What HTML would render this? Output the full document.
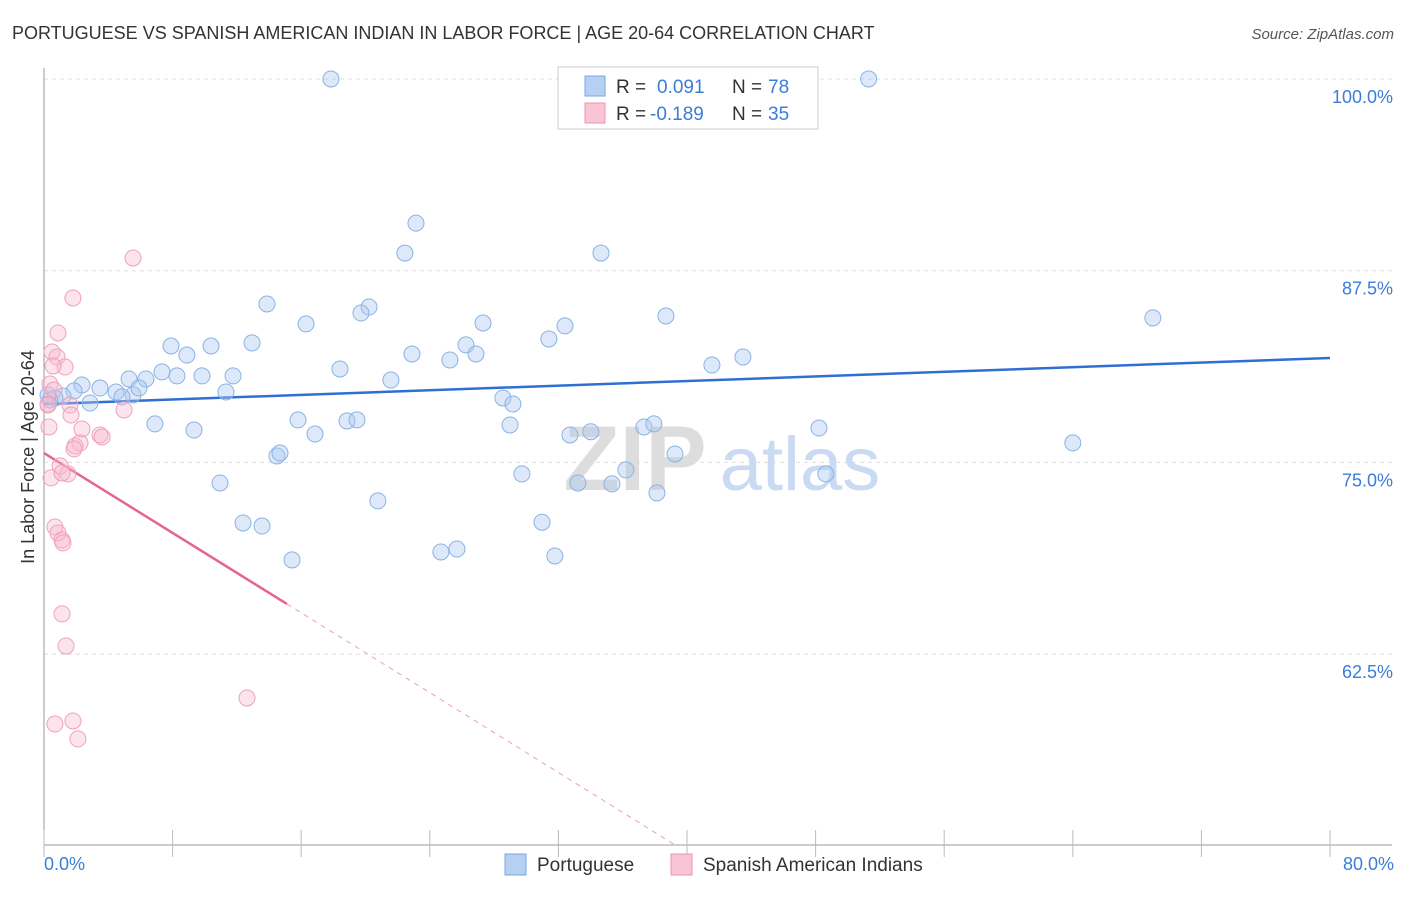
<!DOCTYPE html>
<html><head><meta charset="utf-8"><style>
body{margin:0;background:#fff;font-family:"Liberation Sans",sans-serif}
svg text{font-family:"Liberation Sans",sans-serif}
</style></head><body>
<svg width="1406" height="892" id="chart">
<text x="12" y="39" font-size="18" fill="#333">PORTUGUESE VS SPANISH AMERICAN INDIAN IN LABOR FORCE | AGE 20-64 CORRELATION CHART</text>
<text x="1394" y="39" font-size="15" fill="#555" font-style="italic" text-anchor="end">Source: ZipAtlas.com</text>
<text transform="translate(34,457) rotate(-90)" font-size="18" fill="#333" text-anchor="middle">In Labor Force | Age 20-64</text>
<g id="grid"></g>
<g id="watermark">
<text x="635" y="490" font-size="92" fill="#ddd" text-anchor="middle" font-family="Liberation Serif" font-weight="bold">ZIP</text>
<text x="800" y="490" font-size="76" fill="#c9daf2" text-anchor="middle">atlas</text></g>
<g id="trends"></g>
<g id="points"></g>
<g id="legend">
<rect x="558" y="67" width="260" height="62" fill="#fff" stroke="#ccc"/>
<rect x="585" y="76" width="20" height="20" fill="#b5d0f3" stroke="#7aa6e0"/>
<text x="616" y="93" font-size="19" fill="#333">R = </text><text x="657" y="93" font-size="19" fill="#3b7dd8">0.091</text>
<text x="732" y="93" font-size="19" fill="#333">N = </text><text x="768" y="93" font-size="19" fill="#3b7dd8">78</text>
<rect x="585" y="103" width="20" height="20" fill="#f9c5d5" stroke="#ee93b0"/>
<text x="616" y="120" font-size="19" fill="#333">R = </text><text x="650" y="120" font-size="19" fill="#3b7dd8">-0.189</text>
<text x="732" y="120" font-size="19" fill="#333">N = </text><text x="768" y="120" font-size="19" fill="#3b7dd8">35</text>
</g>
<g>
<rect x="505" y="854" width="21" height="21" fill="#b5d0f3" stroke="#7aa6e0"/>
<text x="537" y="871" font-size="19" fill="#333">Portuguese</text>
<rect x="671" y="854" width="21" height="21" fill="#f9c5d5" stroke="#ee93b0"/>
<text x="703" y="871" font-size="19" fill="#333">Spanish American Indians</text>
</g>
</svg>
<script>
const blueX=[17.85,51.3,23.14,22.45,34.65,13.87,20.22,19.72,16.3,27.31,38.69,68.98,32.41,31.41,7.9,10.39,12.94,26.25,8.89,22.89,26.87,25.25,43.48,41.55,18.41,7.34,8.27,9.83,11.76,5.29,6.34,21.58,2.36,3.48,1.87,11.32,4.48,5.54,5.91,4.85,1.18,2.86,0.68,28.55,29.17,6.9,9.33,15.8,16.86,18.85,19.47,28.99,32.72,34.02,37.32,37.94,48.21,64.0,14.49,14.68,39.25,36.2,29.73,48.64,10.95,33.21,35.33,38.13,20.77,12.38,13.56,30.98,15.43,24.69,25.69,31.78,0.37,0.25];
const blueY=[100,100,90.6,88.65,88.65,85.33,85.13,84.74,84.03,84.09,84.55,84.42,83.9,83.05,82.59,82.59,82.79,82.66,82.0,82.07,82.07,81.68,81.87,81.35,81.09,80.9,80.64,80.64,80.64,80.44,80.44,80.37,80.05,79.85,79.66,79.59,79.59,79.4,79.85,79.27,79.33,78.87,79.2,79.2,78.81,77.51,77.11,77.77,76.85,77.7,77.77,77.44,76.79,77.0,77.31,77.51,77.24,76.27,75.42,75.61,75.55,74.51,74.25,74.25,73.66,73.66,73.6,73.01,72.49,71.05,70.85,71.1,68.64,69.16,69.35,68.9,79.07,79.4];
const pinkX=[5.54,1.8,0.87,0.5,0.81,1.31,0.56,0.37,0.62,0.25,1.62,1.68,4.98,0.31,2.36,3.48,3.61,1.93,2.24,1.87,1.0,1.49,0.44,1.12,0.68,0.87,1.12,1.18,1.12,1.37,12.63,0.68,1.8,2.11,0.25];
const pinkY=[88.33,85.72,83.44,82.2,81.87,81.22,81.29,80.11,79.72,78.81,78.74,78.09,78.42,77.31,77.18,76.79,76.66,76.07,76.27,75.88,74.77,74.25,73.99,74.31,70.79,70.4,69.94,69.75,65.12,63.03,59.64,57.94,58.14,56.97,78.74];
const blueTrend=[78.8,81.81];
const pinkTrend=[75.61,-0.651];
const yTicks=[100,87.5,75,62.5];
const yTickLabels=["100.0%","87.5%","75.0%","62.5%"];
const xLabels=["0.0%","80.0%"];
const NS="http://www.w3.org/2000/svg";
const sx=v=>44+v/80*1286, sy=v=>79+(100-v)/12.5*191.7;
function mk(tag,attrs,parent){const e=document.createElementNS(NS,tag);for(const k in attrs)e.setAttribute(k,attrs[k]);document.getElementById(parent).appendChild(e);return e;}
yTicks.forEach((t,i)=>{
 const l=mk('line',{x1:44,x2:1392,y1:sy(t),y2:sy(t),stroke:'#ddd','stroke-dasharray':'4,4'},'grid');
 
 
 const tx=mk('text',{x:1393,y:sy(t)+24,'font-size':18,fill:'#3b7dd8','text-anchor':'end'},'grid');tx.textContent=yTickLabels[i];
 
 
});
const ya=mk('line',{x1:44,x2:44,y1:68,y2:845,stroke:'#999'},'grid');


const xa=mk('line',{x1:44,x2:1392,y1:845,y2:845,stroke:'#999'},'grid');


for(let i=0;i<=10;i++){const t=mk('line',{x1:sx(i*8),x2:sx(i*8),y1:830,y2:857,stroke:'#bbb'},'grid');
 
 }
[[0,'start',44],[80,'end',1394]].forEach((d,i)=>{const t=mk('text',{x:d[2],y:870,'font-size':18,fill:'#3b7dd8','text-anchor':d[1]},'grid');t.textContent=xLabels[i];
 
 });
blueX.forEach((x,i)=>{const c=mk('circle',{cx:sx(x),cy:sy(blueY[i]),r:8,fill:'rgba(170,200,240,0.4)',stroke:'#8ab2e6','stroke-width':1},'points');
 
 });
pinkX.forEach((x,i)=>{const c=mk('circle',{cx:sx(x),cy:sy(pinkY[i]),r:8,fill:'rgba(247,185,205,0.38)',stroke:'#f0a0ba','stroke-width':1},'points');
 
 });
const bt=mk('line',{x1:sx(0),y1:sy(blueTrend[0]),x2:sx(80),y2:sy(blueTrend[1]),stroke:'#2f6fd3','stroke-width':2.5},'trends');


const pEnd=15.11, pZero=(pinkTrend[0]-50)/-pinkTrend[1];
const pt=mk('line',{x1:sx(0),y1:sy(pinkTrend[0]),x2:sx(pEnd),y2:sy(pinkTrend[0]+pinkTrend[1]*pEnd),stroke:'#e4668f','stroke-width':2.5},'trends');


const pd=mk('line',{x1:sx(pEnd),y1:sy(pinkTrend[0]+pinkTrend[1]*pEnd),x2:sx(pZero),y2:sy(50),stroke:'#eaa0b8','stroke-width':1,'stroke-dasharray':'5,5'},'trends');


</script>
</body></html>
